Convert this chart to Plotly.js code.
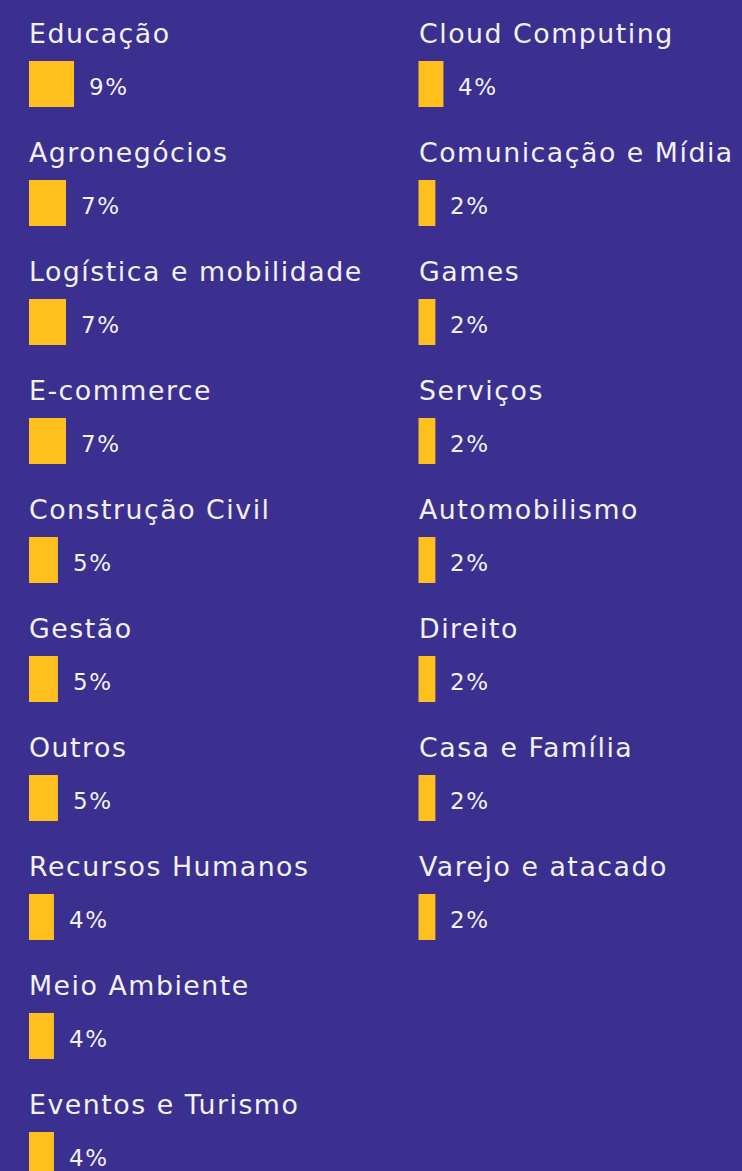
<!DOCTYPE html>
<html>
<head>
<meta charset="utf-8">
<script src="https://cdn.plot.ly/plotly-3.0.1.min.js"></script>
<style>
html,body{margin:0;padding:0;background:#3b2f8f;}
#chart{width:742px;height:1171px;}
text.annotation-text{letter-spacing:1.5px;}
</style>
</head>
<body>
<div id="chart"></div>
<script>
// ---- data ----
const leftCategories = ["Educação","Agronegócios","Logística e mobilidade","E-commerce","Construção Civil","Gestão","Outros","Recursos Humanos","Meio Ambiente","Eventos e Turismo"];
const leftValues = [9,7,7,7,5,5,5,4,4,4];
const rightCategories = ["Cloud Computing","Comunicação e Mídia","Games","Serviços","Automobilismo","Direito","Casa e Família","Varejo e atacado"];
const rightValues = [4,2,2,2,2,2,2,2];

// ---- style ----
const BG = "#3b2f8f";
const BAR = "#ffc01e";
const TEXT = "#f2f1f8";
const FONT = "DejaVu Sans, Open Sans, sans-serif";
const MIN_BAR = 2.2;      // minimum visual bar length (units)
const PX_PER_UNIT = 4.02;
const W = 742, H = 1171;
const ROW_STEP = 119, FIRST_ROW = 84;

const colW = W / 2;
const yRange = [(H - FIRST_ROW) / ROW_STEP, -FIRST_ROW / ROW_STEP];
const leftStart = 29, rightStart = 47.5;
const xRangeL = [-leftStart / PX_PER_UNIT, (colW - leftStart) / PX_PER_UNIT];
const xRangeR = [-rightStart / PX_PER_UNIT, (colW - rightStart) / PX_PER_UNIT];

function barTrace(cats, vals, xa, ya) {
  return {
    type: "bar", orientation: "h",
    y: cats, x: vals.map(v => v + MIN_BAR),
    xaxis: xa, yaxis: ya,
    marker: {color: BAR, line: {width: 0}},
    width: 46 / ROW_STEP,
    hoverinfo: "skip", showlegend: false
  };
}

function annots(cats, vals, xref, yref) {
  const out = [];
  cats.forEach((c, i) => {
    out.push({
      xref: xref, yref: yref, x: 0, y: c,
      xanchor: "left", yanchor: "middle", yshift: 51, xshift: -2,
      text: c, showarrow: false,
      font: {family: FONT, size: 26.8, color: TEXT}
    });
    out.push({
      xref: xref, yref: yref, x: vals[i] + MIN_BAR, y: c,
      xanchor: "left", yanchor: "middle", yshift: -3, xshift: 13,
      text: vals[i] + "%", showarrow: false,
      font: {family: FONT, size: 23, color: TEXT}
    });
  });
  return out;
}

const data = [
  barTrace(leftCategories, leftValues, "x", "y"),
  barTrace(rightCategories, rightValues, "x2", "y2")
];

const hiddenX = {visible: false, showgrid: false, zeroline: false, fixedrange: true};
const hiddenY = {visible: false, showgrid: false, zeroline: false, type: "category", fixedrange: true};

const layout = {
  width: W, height: H,
  margin: {l: 0, r: 0, t: 0, b: 0, pad: 0},
  paper_bgcolor: BG, plot_bgcolor: BG,
  font: {family: FONT, color: TEXT},
  xaxis: Object.assign({}, hiddenX, {domain: [0, 0.5], range: xRangeL}),
  yaxis: Object.assign({}, hiddenY, {domain: [0, 1], range: yRange, categoryarray: leftCategories, categoryorder: "array"}),
  xaxis2: Object.assign({}, hiddenX, {domain: [0.5, 1], range: xRangeR, anchor: "y2"}),
  yaxis2: Object.assign({}, hiddenY, {domain: [0, 1], range: yRange, anchor: "x2", categoryarray: rightCategories, categoryorder: "array"}),
  annotations: annots(leftCategories, leftValues, "x", "y").concat(annots(rightCategories, rightValues, "x2", "y2")),
  showlegend: false
};

Plotly.newPlot("chart", data, layout, {staticPlot: true, displayModeBar: false});
</script>
</body>
</html>
